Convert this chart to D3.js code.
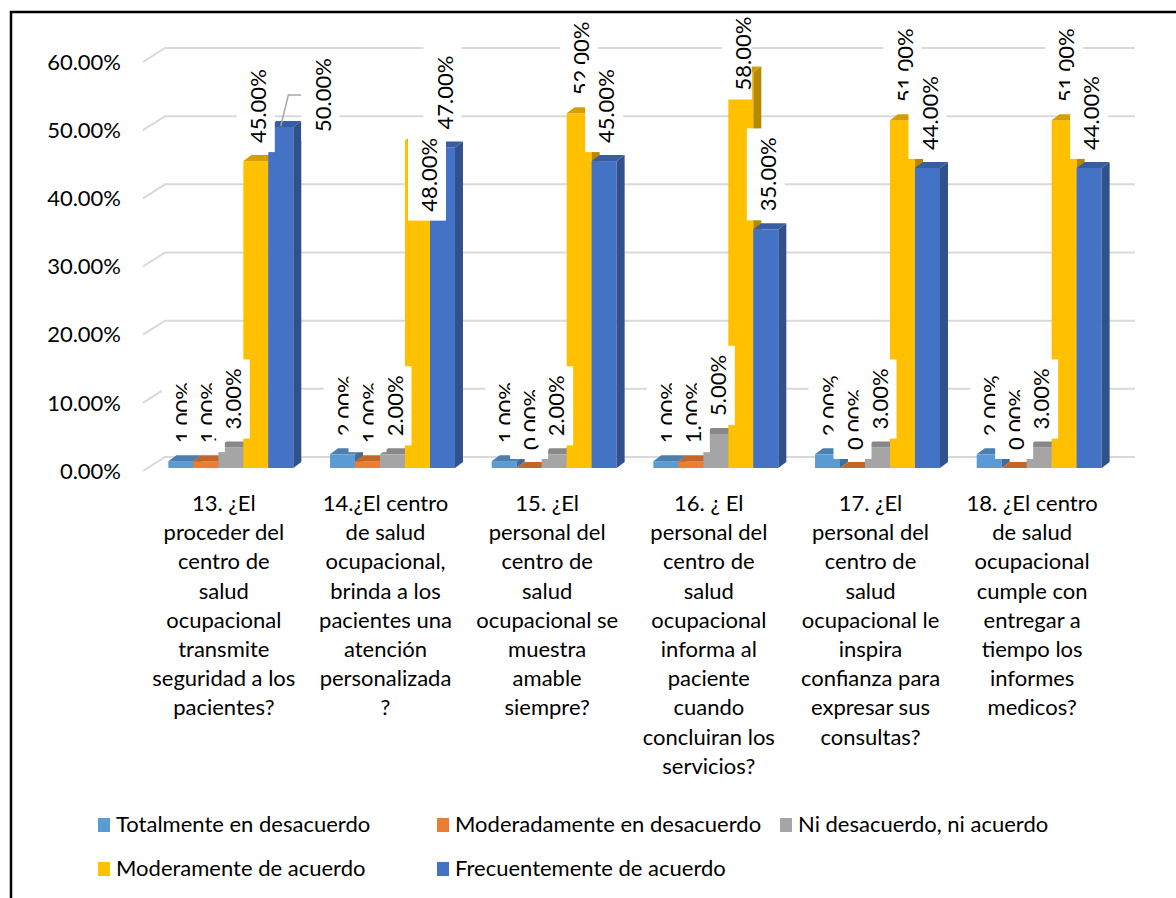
<!DOCTYPE html>
<html lang="es">
<head>
<meta charset="utf-8">
<script src="https://cdn.jsdelivr.net/npm/d3@7/dist/d3.min.js"></script>
<style>
  html, body { margin: 0; padding: 0; background: #fff; }
  svg { display: block; }
  text { font-family: Lato, "Open Sans", sans-serif; fill: #000; }
</style>
</head>
<body>
<svg id="chart" width="1176" height="898"></svg>
<script>
// ---- data ----------------------------------------------------------
const categories = [
  "13. ¿El proceder del centro de salud ocupacional transmite seguridad a los pacientes?",
  "14.¿El centro de salud ocupacional, brinda a los pacientes una atención personalizada ?",
  "15. ¿El personal del centro de salud ocupacional se muestra amable siempre?",
  "16. ¿ El personal del centro de salud ocupacional informa al paciente cuando concluiran los servicios?",
  "17. ¿El personal del centro de salud ocupacional le inspira confianza para expresar sus consultas?",
  "18. ¿El centro de salud ocupacional cumple con entregar a tiempo los informes medicos?"
];
// wrapped lines of each category label
const categoryLines = [
  ["13. ¿El", "proceder del", "centro de", "salud", "ocupacional", "transmite", "seguridad a los", "pacientes?"],
  ["14.¿El centro", "de salud", "ocupacional,", "brinda a los", "pacientes una", "atención", "personalizada", "?"],
  ["15. ¿El", "personal del", "centro de", "salud", "ocupacional se", "muestra", "amable", "siempre?"],
  ["16. ¿ El", "personal del", "centro de", "salud", "ocupacional", "informa al", "paciente", "cuando", "concluiran los", "servicios?"],
  ["17. ¿El", "personal del", "centro de", "salud", "ocupacional le", "inspira", "confianza para", "expresar sus", "consultas?"],
  ["18. ¿El centro", "de salud", "ocupacional", "cumple con", "entregar a", "tiempo los", "informes", "medicos?"]
];
const seriesNames = [
  "Totalmente en desacuerdo",
  "Moderadamente en desacuerdo",
  "Ni desacuerdo, ni acuerdo",
  "Moderamente de acuerdo",
  "Frecuentemente de acuerdo"
];
const totalmenteDesacuerdo    = [1, 2, 1, 1, 2, 2];
const moderadamenteDesacuerdo = [1, 1, 0, 1, 0, 0];
const niDesacuerdoNiAcuerdo   = [3, 2, 2, 5, 3, 3];
const moderamenteAcuerdo      = [45, 48, 52, 58, 51, 51];
const frecuentementeAcuerdo   = [50, 47, 45, 35, 44, 44];
const seriesValues = [totalmenteDesacuerdo, moderadamenteDesacuerdo, niDesacuerdoNiAcuerdo,
                      moderamenteAcuerdo, frecuentementeAcuerdo];
const yTicks = [0, 10, 20, 30, 40, 50, 60];
const seriesColors = ["#5B9BD5", "#ED7D31", "#A5A5A5", "#FFC000", "#4472C4"];

// ---- layout --------------------------------------------------------
const svg = d3.select("#chart");
const W = 1176, H = 898;
const DX = 8, DY = -6;               // depth of each 3D column
const fontSize = 22;

// three vertical planes of the 3D plot: front edge, column faces, back wall
const yFront = d3.scaleLinear().domain([0, 60]).range([471, 62]);
const yBar   = d3.scaleLinear().domain([0, 60]).range([468, 58.8]);
const yBack  = d3.scaleLinear().domain([0, 60]).range([457, 48]);
const wallLeft = 165, wallRight = 1135, frontLeft = 143;

const x0 = d3.scaleBand().domain(d3.range(categories.length))
  .range([150, 1120]).paddingInner(0.227).paddingOuter(0.1135);
const x1 = d3.scaleBand().domain(d3.range(seriesNames.length))
  .range([0, x0.bandwidth()]);

// label placements that differ from the default spot above a column
const labelNudges = [
  { s: 4, g: 0, dx: 39.5, dy: 23, leader: true },
  { s: 3, g: 1, dx: 9.5, dy: 89 },
  { s: 3, g: 3, dx: 0, dy: 36, boxRight: 11 }
];

svg.append("rect").attr("width", W).attr("height", H).attr("fill", "#fff");

// ---- walls & gridlines ----------------------------------------------
const grid = svg.append("g").attr("stroke", "#D9D9D9").attr("stroke-width", 2).attr("fill", "none");
grid.selectAll("path").data(yTicks).join("path")
  .attr("d", v => `M${frontLeft},${yFront(v)}L${wallLeft},${yBack(v)}L${wallRight},${yBack(v)}`);

// ---- y axis labels ---------------------------------------------------
svg.append("g").selectAll("text").data(yTicks).join("text")
  .attr("x", 121).attr("y", v => yFront(v)).attr("dy", "0.35em")
  .attr("text-anchor", "end").attr("font-size", fontSize)
  .text(v => v.toFixed(2) + "%");

// ---- 3D columns -------------------------------------------------------
const bars = svg.append("g");
categories.forEach((c, g) => {
  seriesNames.forEach((name, s) => {
    const v = seriesValues[s][g];
    const xa = x0(g) + x1(s), xb = xa + x1.bandwidth();
    const yt = yBar(v), yb = yBar(0);
    const base = d3.color(seriesColors[s]);
    const bar = bars.append("g");
    bar.append("rect").attr("x", xa).attr("y", yt).attr("width", xb - xa).attr("height", yb - yt)
      .attr("fill", base.formatHex());
    bar.append("path")
      .attr("d", `M${xa},${yt}L${xb},${yt}L${xb + DX},${yt + DY}L${xa + DX},${yt + DY}Z`)
      .attr("fill", base.darker(0.55).formatHex());
    bar.append("path")
      .attr("d", `M${xb},${yt}L${xb + DX},${yt + DY}L${xb + DX},${yb + DY}L${xb},${yb}Z`)
      .attr("fill", base.darker(0.95).formatHex());
  });
});

// ---- data labels ------------------------------------------------------
const labels = svg.append("g");
seriesNames.forEach((name, s) => {
  categories.forEach((c, g) => {
    const v = seriesValues[s][g];
    const nudge = labelNudges.find(n => n.s === s && n.g === g) || { dx: 0, dy: 0 };
    const barCx = x0(g) + x1(s) + x1.bandwidth() / 2;
    const cx = barCx + nudge.dx;
    const bottom = yBar(v) - 18 + nudge.dy;
    const lg = labels.append("g");
    const box = lg.append("rect").attr("fill", "#fff");
    const t = lg.append("text")
      .attr("transform", `translate(${cx + 2.5},${bottom}) rotate(-90)`)
      .attr("dy", "0.35em").attr("font-size", fontSize)
      .text(v.toFixed(2) + "%");
    const len = t.node().getComputedTextLength();
    const right = nudge.boxRight !== undefined ? cx + nudge.boxRight : cx + 19;
    box.attr("x", cx - 19).attr("width", right - (cx - 19))
      .attr("y", bottom - len - 9).attr("height", len + 18);
    if (nudge.leader) {
      const midY = bottom - len / 2;
      lg.insert("path", "rect")
        .attr("d", `M${barCx},${yBar(v) - 1}L${cx - 32},${midY}L${cx - 19},${midY}`)
        .attr("fill", "none").attr("stroke", "#A6A6A6").attr("stroke-width", 1.5);
    }
  });
});

// ---- category labels ----------------------------------------------------
const cats = svg.append("g").attr("font-size", fontSize).attr("text-anchor", "middle");
categoryLines.forEach((lines, g) => {
  const cx = x0(g) + x0.bandwidth() / 2 - 7;
  const t = cats.append("text");
  lines.forEach((ln, i) => {
    t.append("tspan").attr("x", cx).attr("y", 511 + i * 29.2).text(ln);
  });
});

// ---- legend -------------------------------------------------------------
const legendCols = [98, 437, 780];
const legendRows = [832, 876];
const legend = svg.append("g").attr("font-size", fontSize);
seriesNames.forEach((name, s) => {
  const col = s < 3 ? s : s - 3, row = s < 3 ? 0 : 1;
  const lx = legendCols[col], ly = legendRows[row];
  legend.append("rect").attr("x", lx).attr("y", ly - 14).attr("width", 12).attr("height", 14)
    .attr("fill", seriesColors[s]);
  legend.append("text").attr("x", lx + 18).attr("y", ly).text(name);
});

// ---- frame ----------------------------------------------------------------
svg.append("path").attr("d", `M11,${H}L11,12L${W},12`)
  .attr("fill", "none").attr("stroke", "#000").attr("stroke-width", 2.5);
</script>
</body>
</html>
